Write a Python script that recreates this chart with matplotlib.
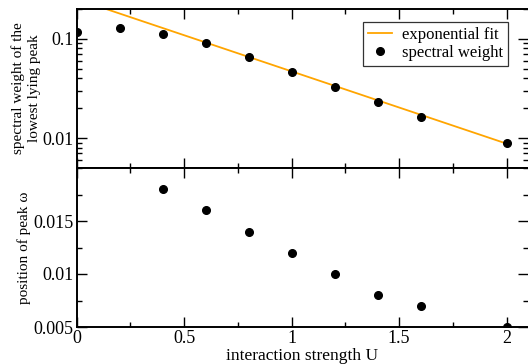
import numpy as np
import matplotlib
matplotlib.use("Agg")
import matplotlib.pyplot as plt
from matplotlib.ticker import LogLocator, NullFormatter, FixedLocator, FixedFormatter, MultipleLocator

plt.rcParams['font.family'] = ['Liberation Serif', 'DejaVu Serif']

# data
U_weight = [0.0, 0.2, 0.4, 0.6, 0.8, 1.0, 1.2, 1.4, 1.6, 2.0]
weight = [0.1185, 0.128, 0.113, 0.091, 0.066, 0.0464, 0.0328, 0.023, 0.0164, 0.0090]

U_pos = [0.4, 0.6, 0.8, 1.0, 1.2, 1.4, 1.6, 2.0]
position = [0.018, 0.016, 0.014, 0.012, 0.010, 0.008, 0.007, 0.005]

# exponential fit a*exp(-b*U)
fit_a = 0.252
fit_b = 1.677

fig = plt.figure(figsize=(5.28, 3.64), dpi=100)
ax1 = fig.add_axes([76.5 / 528, 1 - 168 / 364, 1 - 76.5 / 528, (168 - 9) / 364])
ax2 = fig.add_axes([76.5 / 528, 1 - 327 / 364, 1 - 76.5 / 528, (327 - 168) / 364], sharex=ax1)

# ---- top panel: spectral weight ----
Ufit = np.linspace(0, 2.0, 200)
ax1.plot(Ufit, fit_a * np.exp(-fit_b * Ufit), color='#FFA500', lw=1.3, label='exponential fit')
ax1.plot(U_weight, weight, 'o', color='black', ms=5.5, ls='none', label='spectral weight')
ax1.set_yscale('log')
ax1.set_ylim(0.005, 0.2)
ax1.yaxis.set_major_locator(FixedLocator([0.01, 0.1]))
ax1.yaxis.set_major_formatter(FixedFormatter(['0.01', '0.1']))
ax1.yaxis.set_minor_locator(LogLocator(base=10, subs=np.arange(2, 10)))
ax1.yaxis.set_minor_formatter(NullFormatter())
ax1.set_ylabel('spectral weight of the\nlowest lying peak', fontsize=11, linespacing=1.3, labelpad=1)
ax1.tick_params(labelbottom=False)
leg = ax1.legend(loc='upper right', bbox_to_anchor=(0.955, 0.918), fontsize=12, frameon=True,
                 fancybox=False, edgecolor='black', handlelength=1.4, borderpad=0.3,
                 labelspacing=0.1, handletextpad=0.6, borderaxespad=0.0)
leg.get_frame().set_linewidth(0.9)

# ---- bottom panel: peak position ----
ax2.plot(U_pos, position, 'o', color='black', ms=5.5, ls='none')
ax2.set_ylim(0.005, 0.02)
ax2.set_xlim(0, 2.1)
ax2.yaxis.set_major_locator(FixedLocator([0.005, 0.01, 0.015]))
ax2.yaxis.set_major_formatter(FixedFormatter(['0.005', '0.01', '0.015']))
ax2.yaxis.set_minor_locator(MultipleLocator(0.0025))
ax2.xaxis.set_major_locator(FixedLocator([0, 0.5, 1, 1.5, 2]))
ax2.xaxis.set_major_formatter(FixedFormatter(['0', '0.5', '1', '1.5', '2']))
ax2.xaxis.set_minor_locator(MultipleLocator(0.25))
ax2.set_ylabel('position of peak ω', fontsize=11, labelpad=2)
ax2.set_xlabel('interaction strength U', fontsize=12.5, labelpad=1)

for ax in (ax1, ax2):
    for s in ax.spines.values():
        s.set_linewidth(1.4)
    ax.spines['right'].set_visible(False)
    ax.tick_params(which='both', direction='in', top=True, right=True, labelsize=13, width=1.0, pad=2)
    ax.tick_params(which='major', length=7)
    ax.tick_params(which='minor', length=3.5)

fig.savefig('out.png', dpi=100)
